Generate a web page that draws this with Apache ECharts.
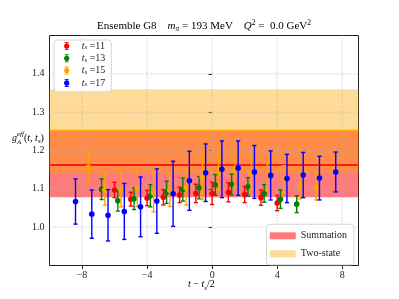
<!DOCTYPE html>
<html><head><meta charset="utf-8">
<script src="https://cdn.jsdelivr.net/npm/echarts@6/dist/echarts.min.js"></script>
<style>html,body{margin:0;padding:0;background:#fff}#c{width:399px;height:299px}</style>
</head><body><div id="c"></div>
<script>
// ---- data ----
const xTicks = [-8, -4, 0, 4, 8];
const yTicks = [1.0, 1.1, 1.2, 1.3, 1.4];
const tsLabels = ['11', '13', '15', '17'];

const x11 = [-6, -5, -4, -3, -2, -1, 0, 1, 2, 3, 4];
const y11 = [1.097, 1.073, 1.076, 1.078, 1.084, 1.088, 1.088, 1.091, 1.085, 1.077, 1.063];
const e11 = [0.020, 0.018, 0.020, 0.020, 0.020, 0.024, 0.029, 0.025, 0.021, 0.020, 0.020];

const x13 = [-6.8, -5.8, -4.8, -3.8, -2.8, -1.8, -0.8, 0.2, 1.2, 2.2, 3.2, 4.2, 5.2];
const y13 = [1.099, 1.069, 1.074, 1.082, 1.091, 1.098, 1.103, 1.110, 1.111, 1.105, 1.088, 1.073, 1.060];
const e13 = [0.027, 0.027, 0.028, 0.029, 0.029, 0.030, 0.029, 0.027, 0.027, 0.024, 0.023, 0.024, 0.022];

const x15 = [-7.6, -6.6, -5.6, -4.6, -3.6, -2.6, -1.6, -0.6, 0.4, 1.4, 2.4, 3.4, 4.4, 5.4, 6.4];
const y15 = [1.156, 1.097, 1.098, 1.100, 1.090, 1.096, 1.103, 1.130, 1.145, 1.150, 1.141, 1.132, 1.125, 1.108, 1.104];
const e15 = [0.040, 0.040, 0.045, 0.047, 0.050, 0.042, 0.045, 0.058, 0.048, 0.045, 0.042, 0.037, 0.035, 0.034, 0.033];

const x17 = [-8.4, -7.4, -6.4, -5.4, -4.4, -3.4, -2.4, -1.4, -0.4, 0.6, 1.6, 2.6, 3.6, 4.6, 5.6, 6.6, 7.6];
const y17 = [1.067, 1.034, 1.031, 1.041, 1.053, 1.068, 1.087, 1.121, 1.142, 1.151, 1.154, 1.144, 1.135, 1.127, 1.136, 1.128, 1.144];
const e17 = [0.059, 0.063, 0.067, 0.073, 0.078, 0.084, 0.085, 0.077, 0.075, 0.074, 0.071, 0.069, 0.064, 0.063, 0.059, 0.057, 0.052];

// bands: [low, central, high]
const summationBand = [1.078, 1.162, 1.252];
const twoStateBand = [1.141, 1.252, 1.360];

// ---- styling ----
const FONT = 'Liberation Serif';
const colors = ['#ff0000', '#008000', '#ffa500', '#0000ff'];
const sumColor = 'rgba(255,0,0,0.52)';
const twoColor = 'rgba(255,165,0,0.40)';

function errRender(color) {
  return function (params, api) {
    const x = api.value(0), y = api.value(1), e = api.value(2);
    const c = api.coord([x, y]), t = api.coord([x, y + e]), b = api.coord([x, y - e]);
    const cw = 2.1, lw = 1.4;
    const st = { stroke: color, lineWidth: lw };
    return { type: 'group', children: [
      { type: 'line', shape: { x1: c[0], y1: t[1], x2: c[0], y2: b[1] }, style: st },
      { type: 'line', shape: { x1: c[0] - cw, y1: t[1], x2: c[0] + cw, y2: t[1] }, style: st },
      { type: 'line', shape: { x1: c[0] - cw, y1: b[1], x2: c[0] + cw, y2: b[1] }, style: st },
      { type: 'circle', shape: { cx: c[0], cy: c[1], r: 2.8 }, style: { fill: color } }
    ] };
  };
}
function bandRender(color) {
  return function (params, api) {
    const cs = params.coordSys;
    const lo = api.coord([0, api.value(0)]), hi = api.coord([0, api.value(2)]);
    return { type: 'rect', shape: { x: cs.x, y: hi[1], width: cs.width, height: lo[1] - hi[1] }, style: { fill: color } };
  };
}
function centerRender(color, lw) {
  return function (params, api) {
    const cs = params.coordSys;
    const m = api.coord([0, api.value(1)]);
    return { type: 'line', shape: { x1: cs.x, y1: m[1], x2: cs.x + cs.width, y2: m[1] }, style: { stroke: color, lineWidth: lw } };
  };
}
const gridStyle = { stroke: '#b0b0b0', lineWidth: 0.8, lineDash: [1, 1.6] };

const errSeries = [[x11, y11, e11], [x13, y13, e13], [x15, y15, e15], [x17, y17, e17]].map((s, k) => ({
  type: 'custom', name: 'ts' + tsLabels[k],
  itemStyle: { color: colors[k] },
  data: s[0].map((x, i) => [x, s[1][i], s[2][i]]),
  renderItem: errRender(colors[k]),
  encode: { x: 0, y: 1 }
}));

const chart = echarts.init(document.getElementById('c'), null, { renderer: 'canvas' });
const legIcon = 'path://M0,4L20,4Z M9.4,0H10.6V8H9.4Z M8,0H12V0.8H8Z M8,7.2H12V8H8Z M12.6,4A2.6,2.6,0,1,1,7.4,4A2.6,2.6,0,1,1,12.6,4Z';

chart.setOption({
  animation: false,
  backgroundColor: '#fff',
  grid: { left: 49.5, top: 35.5, width: 309, height: 230, show: true, borderColor: '#222', borderWidth: 1, backgroundColor: 'transparent' },
  xAxis: {
    type: 'value', min: -10, max: 9,
    axisLine: { show: false },
    splitLine: { show: false },
    axisTick: { show: true, inside: false, length: 3.5, lineStyle: { color: '#222' }, customValues: xTicks },
    axisLabel: { customValues: xTicks, margin: 5, fontFamily: FONT, fontSize: 10, color: '#222',
      formatter: v => (v < 0 ? '\u2212' + (-v) : '' + v) }
  },
  yAxis: {
    type: 'value', min: 0.9, max: 1.5,
    axisLine: { show: false },
    splitLine: { show: false },
    axisTick: { show: true, inside: false, length: 3.5, lineStyle: { color: '#222' }, customValues: yTicks },
    axisLabel: { customValues: yTicks, margin: 5, fontFamily: FONT, fontSize: 10, color: '#222',
      formatter: v => v.toFixed(1) }
  },
  legend: [
    {
      orient: 'vertical', left: 54, top: 40,
      data: tsLabels.map(l => ({ name: 'ts' + l, icon: legIcon })),
      itemWidth: 20, itemHeight: 8, itemGap: 2.3,
      padding: [1, 6, 4, 2.7],
      backgroundColor: 'rgba(255,255,255,0.8)', borderColor: '#d6d6d6', borderWidth: 1, borderRadius: 3,
      selectedMode: false,
      formatter: name => '{i|t}{s|s}{n| =' + name.slice(2) + '}',
      textStyle: { fontFamily: FONT, fontSize: 10, color: '#222', lineHeight: 10,
        rich: { i: { fontFamily: FONT, fontStyle: 'italic', fontSize: 10, color: '#222', lineHeight: 10 },
                s: { fontFamily: FONT, fontStyle: 'italic', fontSize: 7, color: '#222', lineHeight: 10, verticalAlign: 'bottom' },
                n: { fontFamily: FONT, fontSize: 10, color: '#222', lineHeight: 10 } } }
    },
    {
      orient: 'vertical', left: 266.5, top: 224.3,
      data: [{ name: 'Summation', icon: 'rect' }, { name: 'Two-state', icon: 'rect' }],
      itemWidth: 26, itemHeight: 7, itemGap: 8,
      padding: [6.5, 7, 6, 3.3],
      backgroundColor: 'rgba(255,255,255,0.8)', borderColor: '#d6d6d6', borderWidth: 1, borderRadius: 3,
      selectedMode: false,
      textStyle: { fontFamily: FONT, fontSize: 10, color: '#222' }
    }
  ],
  graphic: [
    { type: 'text', left: 205 - 108, top: 19.5,
      style: { text: '{n|Ensemble G8}{n|    }{i|m}{sub|π}{n| = 193 MeV    }{i|Q}{sup|2}{n| =  0.0 GeV}{sup|2}',
        rich: { n: { fontFamily: FONT, fontSize: 11, color: '#222', lineHeight: 14 },
                i: { fontFamily: FONT, fontSize: 11, fontStyle: 'italic', color: '#222', lineHeight: 14 },
                sub: { fontFamily: FONT, fontSize: 7.5, fontStyle: 'italic', color: '#222', verticalAlign: 'bottom', lineHeight: 14, padding: [5, 0, 0, 0] },
                sup: { fontFamily: FONT, fontSize: 7.5, color: '#222', verticalAlign: 'top', lineHeight: 14, padding: [0, 0, 5, 0] } } } },
    { type: 'text', left: 12, top: 131,
      style: { text: '{i|g}{sup|eff}{n|(}{i|t}{n|, }{i|t}{sub|s}{n|)}',
        rich: { n: { fontFamily: FONT, fontSize: 10, color: '#222', lineHeight: 14 },
                i: { fontFamily: FONT, fontSize: 10, fontStyle: 'italic', color: '#222', lineHeight: 14 },
                sub: { fontFamily: FONT, fontSize: 7, fontStyle: 'italic', color: '#222', verticalAlign: 'bottom', lineHeight: 14, padding: [4, 0, 0, 0] },
                sup: { fontFamily: FONT, fontSize: 7, fontStyle: 'italic', color: '#222', verticalAlign: 'top', lineHeight: 14, padding: [0, 0, 4, 0] } } } },
    { type: 'text', left: 17, top: 139,
      style: { text: 'A', fontFamily: FONT, fontSize: 7, fontStyle: 'italic', fill: '#222' } },
    { type: 'text', left: 188, top: 279.5,
      style: { text: '{i|t}{n| \u2212 }{i|t}{sub|s}{n|/2}',
        rich: { n: { fontFamily: FONT, fontSize: 10, color: '#222', lineHeight: 14 },
                i: { fontFamily: FONT, fontSize: 10, fontStyle: 'italic', color: '#222', lineHeight: 14 },
                sub: { fontFamily: FONT, fontSize: 7, fontStyle: 'italic', color: '#222', verticalAlign: 'bottom', lineHeight: 14, padding: [4, 0, 0, 0] } } } }
  ],
  series: [
    { type: 'custom', name: 'Summation', itemStyle: { color: sumColor }, data: [summationBand], renderItem: bandRender(sumColor), silent: true },
    { type: 'custom', name: 'Two-state', itemStyle: { color: twoColor }, data: [twoStateBand], renderItem: bandRender(twoColor), silent: true },
    { type: 'custom', name: 'gridX', data: xTicks.map(v => [v, 1.2]), silent: true,
      renderItem: (params, api) => { const cs = params.coordSys; const p = api.coord([api.value(0), 1.2]);
        return { type: 'line', shape: { x1: p[0], y1: cs.y, x2: p[0], y2: cs.y + cs.height }, style: gridStyle }; } },
    { type: 'custom', name: 'gridY', data: yTicks.map(v => [0, v]), silent: true,
      renderItem: (params, api) => { const cs = params.coordSys; const p = api.coord([0, api.value(1)]);
        return { type: 'line', shape: { x1: cs.x, y1: p[1], x2: cs.x + cs.width, y2: p[1] }, style: gridStyle }; } },
    { type: 'custom', name: 'sumLine', data: [summationBand], renderItem: centerRender('#ff1a0a', 2), silent: true },
    { type: 'custom', name: 'twoLine', data: [twoStateBand], renderItem: centerRender('#ffa500', 1.5), silent: true },
    ...errSeries
  ]
});
</script></body></html>
